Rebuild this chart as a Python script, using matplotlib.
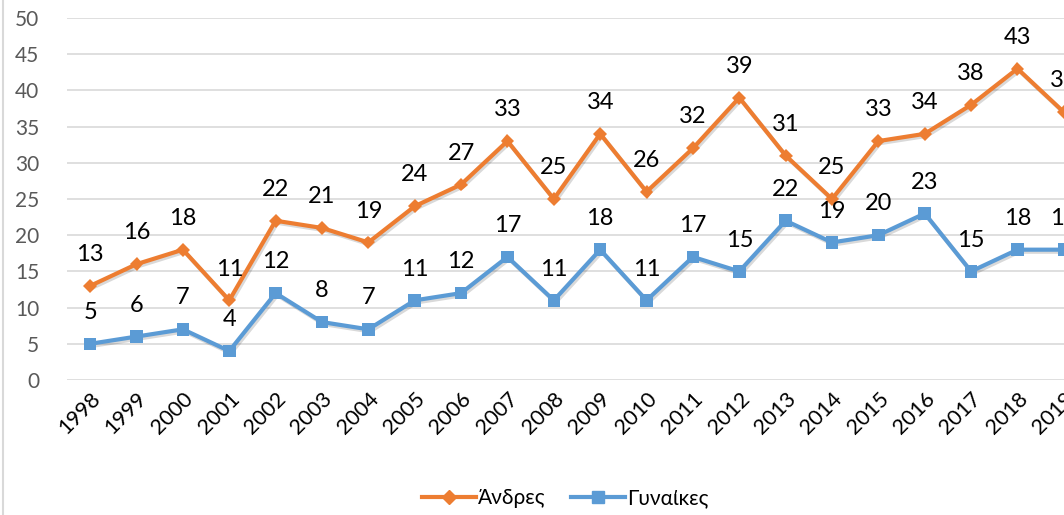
import matplotlib.pyplot as plt
import matplotlib.lines as mlines
import matplotlib.patheffects as pe

years = [str(y) for y in range(1998, 2020)]
men = [13, 16, 18, 11, 22, 21, 19, 24, 27, 33, 25, 34, 26, 32, 39, 31, 25, 33, 34, 38, 43, 37]
women = [5, 6, 7, 4, 12, 8, 7, 11, 12, 17, 11, 18, 11, 17, 15, 22, 19, 20, 23, 15, 18, 18]
yticks = list(range(0, 51, 5))

ORANGE = "#ED7D31"
BLUE = "#5B9BD5"
GRID = "#D9D9D9"

plt.rcParams["font.family"] = ["Lato", "DejaVu Sans"]

fig = plt.figure(figsize=(10.64, 5.15), dpi=100)
# plot area runs past the right edge, like the cropped original
ax = fig.add_axes([67 / 1064, 135 / 515, 1020 / 1064, 362 / 515])

x = list(range(len(years)))
shadow = [pe.SimpleLineShadow(offset=(1.2, -1.5), alpha=0.15, shadow_color="black"), pe.Normal()]

ax.plot(x, men, color=ORANGE, linewidth=3, marker="D", markersize=7,
        markeredgewidth=0, path_effects=shadow, zorder=3)
ax.plot(x, women, color=BLUE, linewidth=3, marker="s", markersize=9,
        markeredgewidth=0, path_effects=shadow, zorder=3)

for xi, v in zip(x, men):
    ax.annotate(str(v), (xi, v), xytext=(0, 15), textcoords="offset points",
                ha="center", va="bottom", fontsize=17, color="black")
for xi, v in zip(x, women):
    ax.annotate(str(v), (xi, v), xytext=(0, 15), textcoords="offset points",
                ha="center", va="bottom", fontsize=17, color="black")

ax.set_xlim(-0.5, len(years) - 0.5)
ax.set_ylim(0, 50)
ax.set_yticks(yticks)
ax.set_xticks(x)
ax.set_xticklabels(years, rotation=45, ha="right", rotation_mode="anchor", fontsize=15.5)
ax.tick_params(axis="y", labelsize=15, labelcolor="#595959", length=0, pad=20)
ax.tick_params(axis="x", length=0, pad=6)
ax.grid(axis="y", color=GRID, linewidth=1.2)
ax.set_axisbelow(True)
for s in ax.spines.values():
    s.set_visible(False)

handles = [mlines.Line2D([], [], color=ORANGE, linewidth=3, marker="D", markersize=7),
           mlines.Line2D([], [], color=BLUE, linewidth=3, marker="s", markersize=9)]
fig.legend(handles, ["Άνδρες", "Γυναίκες"], loc="center", bbox_to_anchor=(565 / 1064, 17 / 515),
           ncol=2, frameon=False, fontsize=15, handlelength=2.6, columnspacing=1.2, handletextpad=0.1)

# chart border on the left
fig.add_artist(mlines.Line2D([3 / 1064, 3 / 1064], [0, 1], color=GRID, linewidth=1.5))

fig.savefig("out.png", dpi=100)
